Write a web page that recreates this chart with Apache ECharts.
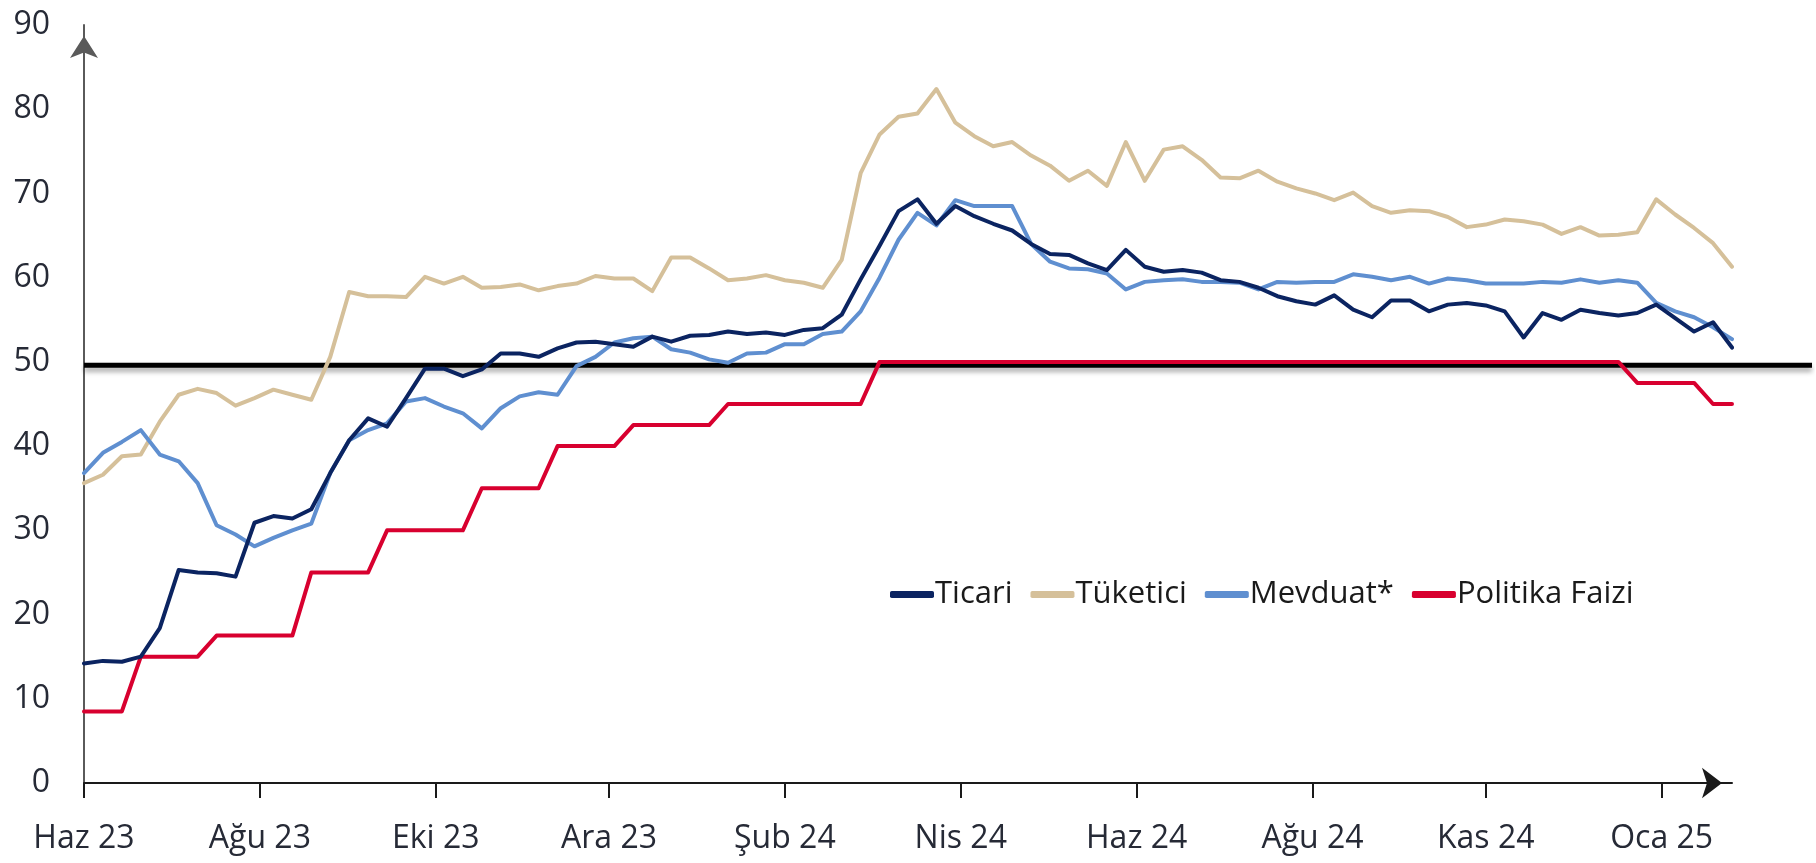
<!DOCTYPE html>
<html>
<head>
<meta charset="utf-8">
<script src="https://cdn.jsdelivr.net/npm/echarts@6/dist/echarts.min.js"></script>
<style>
  html, body { margin: 0; padding: 0; background: #fff; }
  #chart { width: 1816px; height: 863px; }
</style>
</head>
<body>
<div id="chart"></div>
<script>
// haftalik seriler, 2 Haz 2023 - 31 Oca 2025
var ticari = [14.2, 14.5, 14.4, 15.0, 18.4, 25.3, 25.0, 24.9, 24.5, 30.9, 31.7, 31.4, 32.5, 36.8, 40.7, 43.3, 42.3, 45.7, 49.2, 49.2,
  48.3, 49.1, 51.0, 51.0, 50.6, 51.6, 52.3, 52.4, 52.1, 51.8, 53.0, 52.4, 53.1, 53.2, 53.6, 53.3, 53.5, 53.2, 53.8, 54.0,
  55.6, 59.8, 63.8, 67.9, 69.3, 66.4, 68.5, 67.3, 66.4, 65.6, 64.0, 62.8, 62.7, 61.7, 60.9, 63.3, 61.3, 60.7, 60.9, 60.6,
  59.7, 59.5, 58.8, 57.8, 57.2, 56.8, 57.9, 56.2, 55.3, 57.3, 57.3, 56.0, 56.8, 57.0, 56.7, 56.0, 52.9, 55.8, 55.0, 56.2,
  55.8, 55.5, 55.8, 56.8, 55.2, 53.6, 54.7, 51.7];
var tuketici = [35.6, 36.6, 38.8, 39.0, 42.9, 46.1, 46.8, 46.3, 44.8, 45.7, 46.7, 46.1, 45.5, 50.6, 58.3, 57.8, 57.8, 57.7, 60.1, 59.3,
  60.1, 58.8, 58.9, 59.2, 58.5, 59.0, 59.3, 60.2, 59.9, 59.9, 58.4, 62.4, 62.4, 61.1, 59.7, 59.9, 60.3, 59.7, 59.4, 58.8,
  62.1, 72.4, 77.0, 79.1, 79.5, 82.4, 78.4, 76.8, 75.6, 76.1, 74.5, 73.3, 71.5, 72.7, 70.9, 76.1, 71.5, 75.2, 75.6, 74.0,
  71.9, 71.8, 72.7, 71.4, 70.6, 70.0, 69.2, 70.1, 68.5, 67.7, 68.0, 67.9, 67.2, 66.0, 66.3, 66.9, 66.7, 66.3, 65.2, 66.0,
  65.0, 65.1, 65.4, 69.3, 67.5, 65.9, 64.1, 61.3];
var mevduat = [36.8, 39.2, 40.5, 41.9, 39.0, 38.2, 35.6, 30.6, 29.5, 28.1, 29.1, 30.0, 30.8, 36.8, 40.7, 41.9, 42.7, 45.3, 45.7, 44.7,
  43.9, 42.1, 44.5, 45.9, 46.4, 46.1, 49.5, 50.6, 52.3, 52.8, 53.0, 51.5, 51.1, 50.3, 49.9, 51.0, 51.1, 52.1, 52.1, 53.3,
  53.6, 56.0, 60.0, 64.5, 67.7, 66.2, 69.2, 68.5, 68.5, 68.5, 64.0, 61.9, 61.1, 61.0, 60.5, 58.6, 59.5, 59.7, 59.8, 59.5,
  59.5, 59.4, 58.6, 59.5, 59.4, 59.5, 59.5, 60.4, 60.1, 59.7, 60.1, 59.3, 59.9, 59.7, 59.3, 59.3, 59.3, 59.5, 59.4, 59.8,
  59.4, 59.7, 59.4, 57.0, 56.0, 55.3, 54.1, 52.7];
var politikaFaizi = [8.5, 8.5, 8.5, 15, 15, 15, 15, 17.5, 17.5, 17.5, 17.5, 17.5, 25, 25, 25, 25, 30, 30, 30, 30,
  30, 35, 35, 35, 35, 40, 40, 40, 40, 42.5, 42.5, 42.5, 42.5, 42.5, 45, 45, 45, 45, 45, 45,
  45, 45, 50, 50, 50, 50, 50, 50, 50, 50, 50, 50, 50, 50, 50, 50, 50, 50, 50, 50,
  50, 50, 50, 50, 50, 50, 50, 50, 50, 50, 50, 50, 50, 50, 50, 50, 50, 50, 50, 50,
  50, 50, 47.5, 47.5, 47.5, 47.5, 45, 45];

var xLabels = ['Haz 23', 'Ağu 23', 'Eki 23', 'Ara 23', 'Şub 24', 'Nis 24', 'Haz 24', 'Ağu 24', 'Kas 24', 'Oca 25'];
var tickDays = [0, 65, 130, 194, 259, 324, 389, 454, 518, 583];  // baslangictan gun
var lastDay = 609;
var esik = 49.6;  // siyah referans cizgisi

function toPoints(arr) {
  return arr.map(function (v, i) { return [i * 7, v]; });
}

var font = '"Open Sans", "Noto Sans", sans-serif';
var chart = echarts.init(document.getElementById('chart'));

function lineSeries(name, data, color) {
  return {
    name: name,
    type: 'line',
    data: toPoints(data),
    symbol: 'none',
    z: 3,
    lineStyle: { color: color, width: 4, cap: 'round', join: 'round' },
    itemStyle: { color: color }
  };
}

var option = {
  animation: false,
  backgroundColor: '#fff',
  grid: [
    { left: 84, right: 84, top: 25, bottom: 80 },
    { left: 84, right: 4, top: 25, bottom: 80 }
  ],
  legend: {
    left: 885,
    top: 574,
    icon: 'roundRect',
    itemWidth: 44,
    itemHeight: 7,
    itemGap: 18,
    textStyle: { fontFamily: font, fontSize: 31, color: '#1a1a1a', padding: [0, 0, 0, -4] },
    data: ['Ticari', 'Tüketici', 'Mevduat*', 'Politika Faizi']
  },
  xAxis: [{
    type: 'value',
    min: 0,
    max: lastDay,
    splitLine: { show: false },
    axisLine: {
      lineStyle: { color: '#1a1a1a', width: 2 },
      symbol: ['none', 'arrow'],
      symbolSize: [23, 20],
      symbolOffset: [0, -10]
    },
    axisTick: { show: true, length: 15, customValues: tickDays, lineStyle: { color: '#1a1a1a', width: 2 } },
    axisLabel: {
      customValues: tickDays,
      margin: 40,
      fontFamily: font,
      fontSize: 32,
      color: '#262a36',
      formatter: function (v) {
        var k = tickDays.indexOf(v);
        return k >= 0 ? xLabels[k] : '';
      }
    }
  }, {
    gridIndex: 1, type: 'value', min: 0, max: 1, show: false
  }],
  yAxis: [{
    type: 'value',
    min: 0,
    max: 90,
    interval: 10,
    splitLine: { show: false },
    axisTick: { show: false },
    axisLine: {
      show: true,
      lineStyle: { color: '#5a5a5a', width: 2 },
      symbol: ['none', 'arrow'],
      symbolSize: [21, 22],
      symbolOffset: [0, -11]
    },
    axisLabel: { margin: 34, fontFamily: font, fontSize: 32, color: '#262a36' }
  }, {
    gridIndex: 1, type: 'value', min: 0, max: 90, show: false
  }],
  series: [
    {
      name: 'esik',
      type: 'line',
      xAxisIndex: 1,
      yAxisIndex: 1,
      data: [[0, esik], [1, esik]],
      symbol: 'none',
      silent: true,
      z: 1,
      lineStyle: {
        color: '#000', width: 5,
        shadowColor: 'rgba(0,0,0,0.35)', shadowBlur: 5, shadowOffsetY: 4
      }
    },
    lineSeries('Politika Faizi', politikaFaizi, '#d8002f'),
    lineSeries('Tüketici', tuketici, '#d5c09a'),
    lineSeries('Mevduat*', mevduat, '#5f8fd0'),
    lineSeries('Ticari', ticari, '#0b2461')
  ]
};

chart.setOption(option);
</script>
</body>
</html>
